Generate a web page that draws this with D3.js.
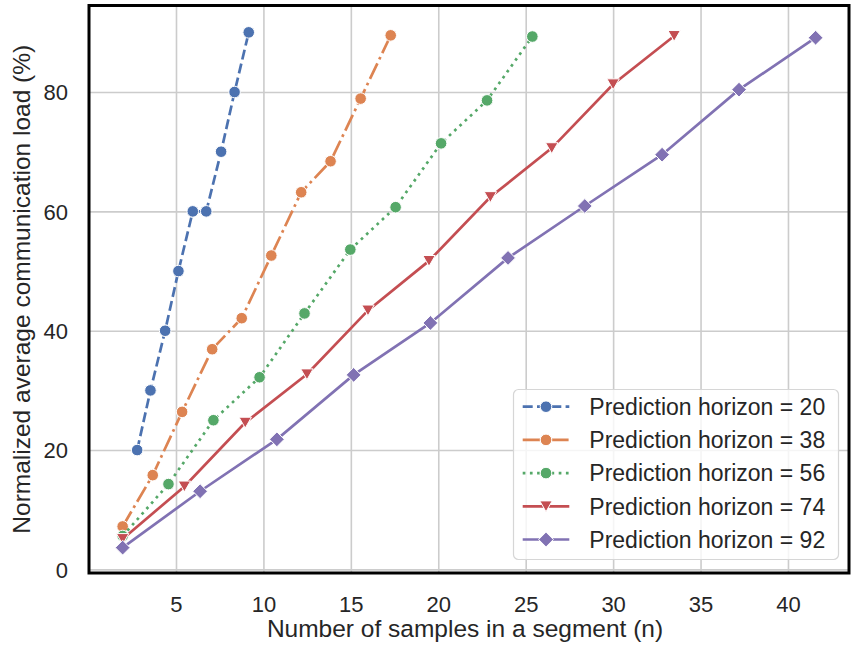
<!DOCTYPE html>
<html>
<head>
<meta charset="utf-8">
<script src="https://cdn.jsdelivr.net/npm/d3@7"></script>
<style>
  html, body { margin: 0; padding: 0; background: #ffffff; }
  svg { display: block; }
  text { font-family: "Liberation Sans", Arial, Helvetica, sans-serif; fill: #262626; }
</style>
</head>
<body>
<svg id="chart" width="853" height="648"></svg>
<script>
// Prediction horizons (one line per horizon)
const horizons = [20, 38, 56, 74, 92];

// Number of samples in a segment (n), per horizon
const n20 = [2.78, 3.54, 4.38, 5.14, 5.96, 6.73, 7.58, 8.35, 9.16];
const n38 = [1.95, 3.67, 5.35, 7.07, 8.76, 10.45, 12.16, 13.84, 15.56, 17.28];
const n56 = [1.95, 4.57, 7.14, 9.78, 12.35, 14.97, 17.56, 20.16, 22.79, 25.38];
const n74 = [1.95, 5.48, 8.96, 12.49, 15.98, 19.47, 22.98, 26.49, 30.0, 33.49];
const n92 = [1.95, 6.38, 10.77, 15.16, 19.55, 23.99, 28.38, 32.8, 37.2, 41.58];

// Normalized average communication load (%), per horizon
const load20 = [20, 30, 40, 50, 60, 60, 70, 80, 90];
const load38 = [7.2, 15.8, 26.4, 36.9, 42.1, 52.6, 63.2, 68.4, 78.9, 89.5];
const load56 = [5.6, 14.3, 25.0, 32.2, 42.9, 53.6, 60.7, 71.4, 78.6, 89.3];
const load74 = [5.1, 13.9, 24.6, 32.7, 43.4, 51.7, 62.4, 70.6, 81.3, 89.4];
const load92 = [3.65, 13.1, 21.8, 32.6, 41.3, 52.2, 60.9, 69.5, 80.4, 89.1];

const xTicks = [5, 10, 15, 20, 25, 30, 35, 40];
const yTicks = [0, 20, 40, 60, 80];

const colors = ["#4C72B0", "#DD8452", "#55A868", "#C44E52", "#8172B3"];
const dashes = ["10,4.3", "17.3,4.3,2.7,4.3", "2.7,4.5", null, null];
const markers = ["circle", "circle", "circle", "tri", "diamond"];

const xs = [n20, n38, n56, n74, n92];
const ys = [load20, load38, load56, load74, load92];
const series = horizons.map((h, i) => ({
  label: `Prediction horizon = ${h}`,
  color: colors[i], dash: dashes[i], marker: markers[i],
  points: xs[i].map((x, j) => ({ x, y: ys[i][j] }))
}));

const svg = d3.select("#chart");
const plot = { left: 89, right: 849, top: 5.5, bottom: 573 };

const x = d3.scaleLinear().domain([0.025, 43.49]).range([plot.left, plot.right]);
const y = d3.scaleLinear().domain([-0.6, 94.5]).range([plot.bottom, plot.top]);

// grid
const gx = svg.append("g").attr("transform", `translate(0,${plot.bottom})`)
  .call(d3.axisBottom(x).tickValues(xTicks).tickSize(-(plot.bottom - plot.top)).tickFormat(d3.format("d")).tickPadding(24));
gx.select(".domain").remove();
gx.selectAll(".tick line").attr("stroke", "#cccccc").attr("stroke-width", 1.6);
gx.selectAll(".tick text").attr("font-size", 22).attr("fill", "#262626").attr("font-family", "Liberation Sans, Arial, sans-serif")
  .attr("dy", null).attr("y", 39);

const gy = svg.append("g").attr("transform", `translate(${plot.left},0)`)
  .call(d3.axisLeft(y).tickValues(yTicks).tickSize(-(plot.right - plot.left)).tickFormat(d3.format("d")).tickPadding(21));
gy.select(".domain").remove();
gy.selectAll(".tick line").attr("stroke", "#cccccc").attr("stroke-width", 1.6);
gy.selectAll(".tick text").attr("font-size", 22).attr("fill", "#262626").attr("font-family", "Liberation Sans, Arial, sans-serif")
  .attr("dy", "0.36em");

// marker shapes
function drawMarker(g, type, color, cx, cy) {
  if (type === "circle") {
    g.append("circle").attr("cx", cx).attr("cy", cy).attr("r", 5.8)
      .attr("fill", color).attr("stroke", "#fff").attr("stroke-width", 1);
  } else if (type === "tri") {
    const w = 6.2, h = 5.4;
    g.append("path").attr("d", `M${cx - w},${cy - h}L${cx + w},${cy - h}L${cx},${cy + h}Z`)
      .attr("fill", color).attr("stroke", "#fff").attr("stroke-width", 1);
  } else {
    const r = 7.4;
    g.append("path").attr("d", `M${cx},${cy - r}L${cx + r},${cy}L${cx},${cy + r}L${cx - r},${cy}Z`)
      .attr("fill", color).attr("stroke", "#fff").attr("stroke-width", 1);
  }
}

const line = d3.line().x(d => x(d.x)).y(d => y(d.y));
const dataG = svg.append("g");
series.forEach(s => {
  const g = dataG.append("g");
  g.append("path").datum(s.points).attr("d", line)
    .attr("fill", "none").attr("stroke", s.color).attr("stroke-width", 2.7)
    .attr("stroke-dasharray", s.dash).attr("stroke-linecap", "butt");
  s.points.forEach(p => drawMarker(g, s.marker, s.color, x(p.x), y(p.y)));
});

// frame
svg.append("rect").attr("x", plot.left).attr("y", plot.top)
  .attr("width", plot.right - plot.left).attr("height", plot.bottom - plot.top)
  .attr("fill", "none").attr("stroke", "#000").attr("stroke-width", 3);

// axis titles
svg.append("text").attr("x", (plot.left + plot.right) / 2 - 4).attr("y", 637)
  .attr("text-anchor", "middle").attr("font-size", 24.5)
  .text("Number of samples in a segment (n)");
svg.append("text").attr("transform", `translate(30,${(plot.top + plot.bottom) / 2}) rotate(-90)`)
  .attr("text-anchor", "middle").attr("font-size", 24.5)
  .text("Normalized average communication load (%)");

// legend
const lg = svg.append("g");
lg.append("rect").attr("x", 513.5).attr("y", 389.5).attr("width", 325).attr("height", 170)
  .attr("rx", 5).attr("fill", "#fff").attr("fill-opacity", 0.8)
  .attr("stroke", "#d6d6d6").attr("stroke-width", 1.2);
series.forEach((s, i) => {
  const cy = 406.7 + i * 33.2;
  lg.append("line").attr("x1", 522.7).attr("x2", 569.3).attr("y1", cy).attr("y2", cy)
    .attr("stroke", s.color).attr("stroke-width", 2.7).attr("stroke-dasharray", s.dash);
  drawMarker(lg, s.marker, s.color, 546, cy);
  lg.append("text").attr("x", 589.3).attr("y", cy).attr("dy", "0.36em")
    .attr("font-size", 23).text(s.label);
});
</script>
</body>
</html>
